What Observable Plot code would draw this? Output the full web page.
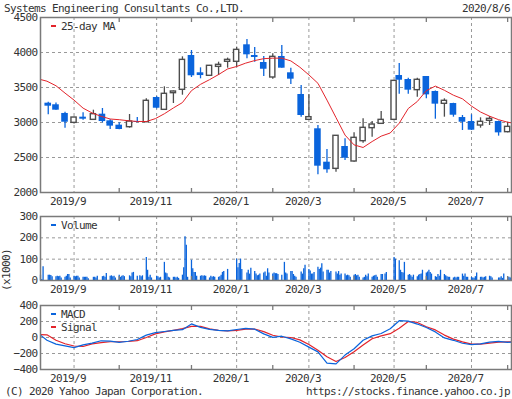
<!DOCTYPE html>
<html><head><meta charset="utf-8">
<script src="https://cdn.jsdelivr.net/npm/d3@7"></script>
<script src="https://cdn.jsdelivr.net/npm/@observablehq/plot@0.6"></script>
<style>
html,body{margin:0;padding:0;background:#fff;}
#wrap{position:relative;width:512px;height:399px;overflow:hidden;font-family:"DejaVu Sans Mono",monospace;font-size:11px;letter-spacing:-0.62px;color:#333;}
#wrap svg{position:absolute;left:0;}
.t{position:absolute;white-space:nowrap;line-height:11px;height:11px;}
.dash{position:absolute;width:5px;height:2px;}
</style></head><body><div id="wrap"></div>
<script>
// ---------- DATA ----------
const title = "Systems Engineering Consultants Co.,LTD.";
const dateLabel = "2020/8/6";
const startDate = "2019-08-07", endDate = "2020-08-06";
const holidays = ["2019-08-12","2019-09-16","2019-09-23","2019-10-14","2019-10-22","2019-11-04","2019-12-31",
  "2020-01-01","2020-01-02","2020-01-03","2020-01-13","2020-02-11","2020-02-24","2020-03-20","2020-04-29",
  "2020-05-04","2020-05-05","2020-05-06","2020-07-23","2020-07-24"];

// month ticks (first trading day of the first week starting in the month)
const majorTickDates = ["2019-09-02","2019-11-05","2020-01-06","2020-03-02","2020-05-07","2020-07-06"];
const majorTickLabels = ["2019/9","2019/11","2020/1","2020/3","2020/5","2020/7"];
const minorTickDates = ["2019-10-07","2019-12-02","2020-02-03","2020-04-06","2020-06-01","2020-08-03"];

const priceTicks = [2000,2500,3000,3500,4000,4500];
const volumeTicks = [0,100,200,300];
const macdTicks = [-400,-200,0,200,400];

// weekly candles (52 weeks, Aug 13 2019 .. Aug 3 2020)
const candleOpen  = [3276,3253,3129,2995,3076,3038,3119,3024,2962,2933,3014,3004,3357,3181,3419,3467,3957,3710,3667,3795,3867,3867,4110,3957,3857,3643,3943,3710,3400,3038,2910,2433,2338,2657,2443,2733,2919,2981,3038,3671,3614,3462,3657,3443,3267,3271,3071,3014,2957,3024,3014,2862];
const candleHigh  = [3290,3280,3147,3075,3138,3176,3200,3038,2995,3114,3070,3338,3370,3510,3450,3938,4029,3781,3815,3862,3920,4076,4186,4071,3943,3981,4100,3776,3529,3400,2957,2614,2810,2767,2852,3052,3014,3157,3600,3843,3633,3633,3657,3450,3338,3275,3100,3110,3067,3086,3020,3004];
const candleLow   = [3110,3176,2919,2980,3033,3038,2995,2900,2895,2919,2995,3000,3195,3181,3271,3390,3643,3624,3665,3671,3776,3790,3910,3862,3657,3619,3776,3543,3076,3030,2253,2276,2290,2457,2433,2705,2790,2981,3030,3405,3405,3362,3338,3047,3076,3076,2886,2886,2919,2957,2805,2852];
const candleClose = [3233,3176,3004,3071,3047,3119,3014,2948,2900,3014,3000,3310,3204,3410,3443,3895,3667,3671,3810,3824,3895,4038,3967,3929,3761,3938,3776,3619,3100,3076,2376,2324,2810,2490,2781,2924,2971,3038,3595,3604,3462,3610,3395,3262,3310,3104,3004,2890,3010,3052,2852,2938];

// 25-day MA, MACD, Signal sampled at: first day, each Monday of the 52 weeks, last day
const ma25 = [3614,3590,3525,3420,3320,3205,3136,3088,3050,3040,3025,3015,3014,3055,3125,3208,3285,3455,3545,3612,3685,3765,3800,3848,3885,3912,3919,3919,3880,3790,3680,3560,3320,3070,2820,2680,2643,2728,2805,2850,2990,3200,3300,3455,3520,3460,3390,3338,3235,3150,3090,3040,3004,2995];
const macd = [30,-35,-83,-105,-127,-92,-70,-41,-45,-60,-47,-25,30,60,75,90,98,170,126,102,88,82,100,114,104,45,2,16,-17,-60,-120,-180,-320,-330,-220,-140,-35,20,50,110,210,205,168,125,70,-5,-35,-72,-90,-80,-58,-48,-60,-57];
const signal = [37,33,-35,-78,-106,-112,-80,-64,-53,-53,-50,-40,0,45,70,90,110,140,139,108,88,82,90,105,106,74,28,6,0,-30,-88,-160,-240,-300,-250,-178,-95,-15,20,48,115,200,188,135,95,30,-20,-55,-82,-82,-70,-58,-54,-53];

// daily volume (x1000), grouped by week
const volumeByWeek = [
  [25,5,65],[25,25,24,18],[18,20,18,20,12],[15,20,28,28,12],[20,18,20,20,12],[15,15,15,15,8],
  [15,15,12,20],[18,20,15,33],[20,22,18,20,12],[25,15,20,22,18],[22,18,35,38],[20,22,18,22],
  [108,48,15,25,12],[20,18,12,15],[85,35,32,15,12],[15,15,12,15,10],[25,60,205,165,15],[95,55,38,38,20],
  [20,22,20,22,20],[12,20,15,18,15],[15,18,25,38,42],[52],[100,60,80,100,52],[35,48,30,58],
  [42,30,22,25,30],[35,40,20,55,35],[30,35,32,32,28],[25,85,35,30],[42,42,28,20,15],[40,30,55,72],
  [52,45,30,30,38],[62,52,58,78,40],[48,48,35,42],[40,30,42,25,30],[30,22,25,22,15],[25,28,22,25,15],
  [12,15,25,18,30],[15,20,22,25,15],[28,28,30,38],[108,100],[92,48,38,35,85],[25,28,22,15,25],
  [18,25,28,30,48],[35,40,48,38,30],[18,15,28,20,48],[28,22,18,15,15],[12,15,12,15,15],[30,20,30,15,15],
  [15,12,10,18,35],[15,15,12,15,18],[20,18,12],[12,12,18,10,30],[15,15,12,15]
];

// ---------- BUILD ----------
const BLUE = "#0a64dc", RED = "#e3242b", GREY = "#4d4d4d", GRID = "#999", FRAME = "#7a7a7a";
const day = 864e5;
const parse = s => new Date(s + "T00:00:00Z");
const hol = new Set(holidays);
const tradingDays = [];
for (let t = +parse(startDate); t <= +parse(endDate); t += day) {
  const d = new Date(t), wd = d.getUTCDay();
  if (wd === 0 || wd === 6 || hol.has(d.toISOString().slice(0,10))) continue;
  tradingDays.push(d);
}
const weekKey = d => +d - ((d.getUTCDay() + 6) % 7) * day;
const weeks = d3.groups(tradingDays, weekKey);

const volRows = [];
weeks.forEach(([k, days], i) => days.forEach((d, j) => {
  const v = (volumeByWeek[i] || [])[j];
  if (v != null) volRows.push({date: d, v});
}));
const candles = weeks.slice(1).map(([k, days], i) => ({
  date: days[0], o: candleOpen[i], h: candleHigh[i], l: candleLow[i], c: candleClose[i]
}));
const upC = candles.filter(d => d.c >= d.o), downC = candles.filter(d => d.c < d.o);
const sampleDates = [tradingDays[0], ...weeks.slice(1).map(([k]) => new Date(k)), tradingDays[tradingDays.length - 1]];
const maRows = sampleDates.map((d, i) => ({date: d, v: ma25[i]}));
const macdRows = sampleDates.map((d, i) => ({date: d, v: macd[i]}));
const sigRows = sampleDates.map((d, i) => ({date: d, v: signal[i]}));

const xDomain = [parse(startDate), parse(endDate)];
const majors = majorTickDates.map(parse), minors = minorTickDates.map(parse);
const labelMap = new Map(majors.map((d, i) => [+d, majorTickLabels[i]]));
const styleStr = 'font-family:"DejaVu Sans Mono",monospace;font-size:11px;letter-spacing:-0.62px;color:#333;background:transparent;overflow:visible;';
const numFmt = d => d < 0 ? "\u2212" + Math.abs(d) : String(d);

function xMarks() {
  return [
    Plot.gridX(majors, {stroke: GRID, strokeOpacity: 1, strokeDasharray: "3,3"}),
    Plot.axisX(majors, {anchor: "bottom", label: null, tickSize: 0, tickPadding: 5, dx: -6, tickFormat: d => labelMap.get(+d)}),
  ];
}
function xMinor() {
  return [
    Plot.axisX(minors, {anchor: "bottom", label: null, tickSize: -4, tickFormat: () => "", stroke: FRAME, strokeWidth: 1.3}),
    Plot.axisX(minors, {anchor: "top", label: null, tickSize: -4, tickFormat: () => "", stroke: FRAME, strokeWidth: 1.3}),
  ];
}
function yAxis(ticks) { return Plot.axisY(ticks, {label: null, tickSize: 0, tickPadding: 3, tickFormat: numFmt}); }
const wrap = document.getElementById("wrap");
function place(svg, top) { svg.style.top = top + "px"; wrap.appendChild(svg); }

const p1 = Plot.plot({
  width: 512, height: 210, marginLeft: 40, marginRight: 1, marginTop: 17, marginBottom: 18,
  style: styleStr,
  x: {type: "utc", domain: xDomain, label: null},
  y: {domain: [2000, 4500], label: null},
  marks: [
    Plot.gridY(priceTicks.slice(1, -1), {stroke: GRID, strokeOpacity: 1, strokeDasharray: "3,3"}),
    ...xMarks(),
    Plot.ruleX(upC, {x: "date", y1: "l", y2: "h", stroke: GREY, strokeWidth: 1.3}),
    Plot.ruleX(downC, {x: "date", y1: "l", y2: "h", stroke: BLUE, strokeWidth: 1.3}),
    Plot.rect(upC, {x1: "date", x2: "date", y1: "o", y2: "c", insetLeft: -2.6, insetRight: -2.6, fill: "#fff", stroke: GREY, strokeWidth: 1.4}),
    Plot.rect(downC, {x1: "date", x2: "date", y1: "o", y2: "c", insetLeft: -3.3, insetRight: -3.3, fill: BLUE}),
    Plot.line(maRows, {x: "date", y: "v", stroke: RED, strokeWidth: 1}),
    Plot.frame({stroke: FRAME, strokeWidth: 1.5}),
    ...xMinor(),
    yAxis(priceTicks)
  ]
});
place(p1, 0);

const p2 = Plot.plot({
  width: 512, height: 90, marginLeft: 40, marginRight: 1, marginTop: 6, marginBottom: 20,
  style: styleStr,
  x: {type: "utc", domain: xDomain, label: null},
  y: {domain: [0, 300], label: null},
  marks: [
    Plot.gridY(volumeTicks.slice(1, -1), {stroke: GRID, strokeOpacity: 1, strokeDasharray: "3,3"}),
    ...xMarks(),
    Plot.ruleX(volRows, {x: "date", y: "v", stroke: BLUE, strokeWidth: 1.3}),
    Plot.frame({stroke: FRAME, strokeWidth: 1.5}),
    ...xMinor(),
    yAxis(volumeTicks)
  ]
});
place(p2, 210);

const p3 = Plot.plot({
  width: 512, height: 99, marginLeft: 40, marginRight: 1, marginTop: 5, marginBottom: 30,
  style: styleStr,
  x: {type: "utc", domain: xDomain, label: null},
  y: {domain: [-400, 400], label: null},
  marks: [
    Plot.gridY(macdTicks.slice(1, -1), {stroke: GRID, strokeOpacity: 1, strokeDasharray: "3,3"}),
    ...xMarks(),
    Plot.line(sigRows, {x: "date", y: "v", stroke: RED, strokeWidth: 1.2}),
    Plot.line(macdRows, {x: "date", y: "v", stroke: BLUE, strokeWidth: 1.2}),
    Plot.frame({stroke: FRAME, strokeWidth: 1.5}),
    ...xMinor(),
    yAxis(macdTicks)
  ]
});
place(p3, 300);

// ---------- TEXT OVERLAYS ----------
function txt(s, css) { const e = document.createElement("div"); e.className = "t"; e.textContent = s; Object.assign(e.style, css); wrap.appendChild(e); return e; }
function dash(color, x, y) { const e = document.createElement("div"); e.className = "dash"; Object.assign(e.style, {left: x + "px", top: (y - 1) + "px", background: color}); wrap.appendChild(e); }
txt(title, {left: "4px", top: "3px"});
txt(dateLabel, {right: "2px", top: "3px"});
txt("(C) 2020 Yahoo Japan Corporation.", {left: "5px", top: "386px"});
txt("https://stocks.finance.yahoo.co.jp", {right: "2px", top: "386px"});
dash(RED, 51, 26); txt("25-day MA", {left: "61px", top: "20.5px"});
dash(BLUE, 51, 225); txt("Volume", {left: "61px", top: "219.5px"});
dash(BLUE, 51, 314); txt("MACD", {left: "61px", top: "308.5px"});
dash(RED, 51, 327); txt("Signal", {left: "61px", top: "321.5px"});
txt("(x1000)", {left: "6px", top: "270px", transform: "translate(-50%,-50%) rotate(-90deg)"});
</script></body></html>
